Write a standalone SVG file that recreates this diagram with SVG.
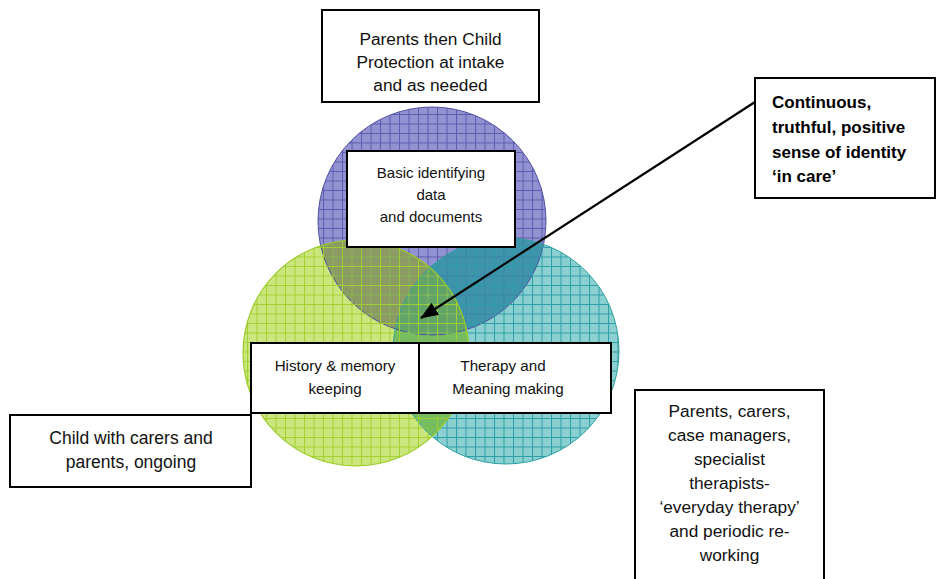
<svg xmlns="http://www.w3.org/2000/svg" width="936" height="579" viewBox="0 0 936 579">
<style>
.box{fill:#fff;stroke:#000;stroke-width:2}
.t{font-family:"Liberation Sans",Arial,sans-serif;fill:#111;text-anchor:middle}
.b{font-family:"Liberation Sans",Arial,sans-serif;fill:#000;font-weight:bold;font-size:17px}
</style>
<defs>
<pattern id="lP" width="9.5" height="9.5" patternUnits="userSpaceOnUse">
<path d="M0 0.5H9.5M0.5 0V9.5" stroke="#5c5cb0" stroke-width="1"/>
</pattern>
<pattern id="lG" width="9.5" height="9.5" patternUnits="userSpaceOnUse">
<path d="M0 0.5H9.5M0.5 0V9.5" stroke="#a0d030" stroke-width="1"/>
</pattern>
<pattern id="lT" width="9.5" height="9.5" patternUnits="userSpaceOnUse">
<path d="M0 0.5H9.5M0.5 0V9.5" stroke="#2c9ea6" stroke-width="1"/>
</pattern>
<clipPath id="cpP"><circle cx="432" cy="221" r="114"/></clipPath>
<clipPath id="cpT"><circle cx="506" cy="351" r="113"/></clipPath>
<marker id="ah" markerWidth="18" markerHeight="14" refX="17" refY="7" orient="auto" markerUnits="userSpaceOnUse" viewBox="0 0 18 14">
<path d="M0 0L18 7L0 14Z" fill="#000"/>
</marker>
</defs>
<g id="circles">
<circle id="c-purple" cx="432" cy="221" r="114" fill="#9292d2"/>
<circle id="c-teal" cx="506" cy="351" r="113" fill="#8ad0d0"/>
<circle id="c-green" cx="356" cy="353" r="113" fill="#cce67e"/>
<g clip-path="url(#cpP)">
<circle cx="506" cy="351" r="113" fill="#3e94aa"/>
<circle cx="356" cy="353" r="113" fill="#8c9a64"/>
</g>
<g clip-path="url(#cpT)">
<circle cx="356" cy="353" r="113" fill="#76bc60"/>
<g clip-path="url(#cpP)"><circle cx="356" cy="353" r="113" fill="#62a468"/></g>
</g>
<circle cx="432" cy="221" r="114" fill="url(#lP)" stroke="#5050a0" stroke-width="1"/>
<circle cx="506" cy="351" r="113" fill="url(#lT)" stroke="#2ea0a0" stroke-width="1"/>
<circle cx="356" cy="353" r="113" fill="url(#lG)" stroke="#9ccc2c" stroke-width="1.2"/>
</g>
<g id="n-top">
<rect class="box" x="322" y="10" width="217" height="92"/>
<text class="t" font-size="17.3"><tspan x="430.5" y="45">Parents then Child</tspan><tspan x="430.5" y="68">Protection at intake</tspan><tspan x="430.5" y="91">and as needed</tspan></text>
</g>
<g id="n-basic">
<rect class="box" x="347" y="151" width="168" height="96"/>
<text class="t" font-size="15"><tspan x="431" y="178">Basic identifying</tspan><tspan x="431" y="200">data</tspan><tspan x="431" y="222">and documents</tspan></text>
</g>
<g id="n-history">
<rect class="box" x="251" y="343" width="168" height="70"/>
<text class="t" font-size="15.2"><tspan x="335" y="371">History &amp; memory</tspan><tspan x="335" y="394">keeping</tspan></text>
</g>
<g id="n-therapy">
<rect class="box" x="419" y="343" width="192" height="70"/>
<text class="t" font-size="15.2"><tspan x="503" y="371">Therapy and</tspan><tspan x="508" y="394">Meaning making</tspan></text>
</g>
<g id="n-identity">
<rect class="box" x="755" y="78" width="180" height="120"/>
<text class="b"><tspan x="772" y="108">Continuous,</tspan><tspan x="772" y="133">truthful, positive</tspan><tspan x="772" y="158">sense of identity</tspan><tspan x="772" y="182">‘in care’</tspan></text>
</g>
<g id="n-child">
<rect class="box" x="10" y="415" width="241" height="72"/>
<text class="t" font-size="17.5"><tspan x="131" y="444">Child with carers and</tspan><tspan x="131" y="468">parents, ongoing</tspan></text>
</g>
<g id="n-parents">
<rect class="box" x="635" y="390" width="189" height="195"/>
<text class="t" font-size="17.3"><tspan x="729.5" y="417">Parents, carers,</tspan><tspan x="729.5" y="441">case managers,</tspan><tspan x="729.5" y="465">specialist</tspan><tspan x="729.5" y="489">therapists-</tspan><tspan x="729.5" y="513">‘everyday therapy’</tspan><tspan x="729.5" y="537">and periodic re-</tspan><tspan x="729.5" y="561">working</tspan></text>
</g>
<g id="connectors">
<line x1="755" y1="102" x2="421" y2="318" stroke="#000" stroke-width="2.2" marker-end="url(#ah)"/>
</g>
</svg>
